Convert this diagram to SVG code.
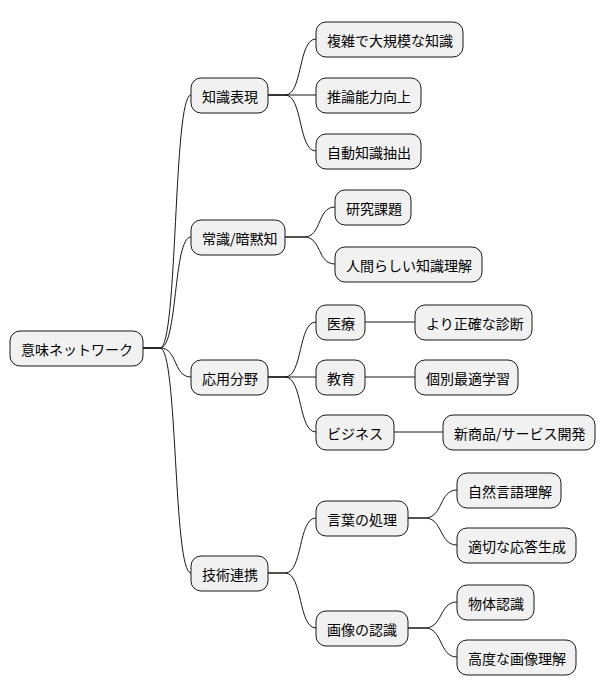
<svg xmlns="http://www.w3.org/2000/svg" width="605" height="696" viewBox="0 0 605 696">
<style>
.n rect{fill:#f1f1f1;stroke:#181818;stroke-width:1}
.n text{font-family:"Noto Sans CJK JP","Liberation Sans",sans-serif;font-size:14px;fill:#000;dominant-baseline:central}
#c path{fill:none;stroke:#181818;stroke-width:1}
</style>
<rect width="605" height="696" fill="#fff"/>
<g id="c">
<path d="M143,348 H160 C178,348 173,95 191,95"/>
<path d="M143,348 H160 C178,348 173,237 191,237"/>
<path d="M143,348 H160 C178,348 173,377 191,377"/>
<path d="M143,348 H160 C178,348 173,573 191,573"/>
<path d="M268,95 H285 C303,95 298,39 316,39"/>
<path d="M268,95 H316"/>
<path d="M268,95 H285 C303,95 298,151 316,151"/>
<path d="M285,237 H304 C322,237 317,207 335,207"/>
<path d="M285,237 H304 C322,237 317,264 335,264"/>
<path d="M268,377 H285 C303,377 298,322 316,322"/>
<path d="M268,377 H316"/>
<path d="M268,377 H285 C303,377 298,432 316,432"/>
<path d="M365,322 H415"/>
<path d="M365,377 H415"/>
<path d="M394,432 H443"/>
<path d="M268,573 H285 C303,573 298,518 316,518"/>
<path d="M268,573 H285 C303,573 298,628 316,628"/>
<path d="M408,518 H425 C443,518 439,490 457,490"/>
<path d="M408,518 H425 C443,518 439,545 457,545"/>
<path d="M408,628 H425 C443,628 439,602 457,602"/>
<path d="M408,628 H425 C443,628 439,657 457,657"/>
</g>
<g id="root" class="n"><rect x="10" y="331" width="133" height="35" rx="10"/><text x="21" y="348.5">意味ネットワーク</text></g>
<g id="n1" class="n"><rect x="191" y="78" width="77" height="35" rx="10"/><text x="202" y="95.5">知識表現</text></g>
<g id="n2" class="n"><rect x="191" y="220" width="94" height="35" rx="10"/><text x="202" y="237.5">常識/暗黙知</text></g>
<g id="n3" class="n"><rect x="191" y="360" width="77" height="35" rx="10"/><text x="202" y="377.5">応用分野</text></g>
<g id="n4" class="n"><rect x="191" y="556" width="77" height="35" rx="10"/><text x="202" y="573.5">技術連携</text></g>
<g id="n11" class="n"><rect x="316" y="22" width="147" height="35" rx="10"/><text x="327" y="39.5">複雑で大規模な知識</text></g>
<g id="n12" class="n"><rect x="316" y="78" width="105" height="35" rx="10"/><text x="327" y="95.5">推論能力向上</text></g>
<g id="n13" class="n"><rect x="316" y="134" width="105" height="35" rx="10"/><text x="327" y="151.5">自動知識抽出</text></g>
<g id="n21" class="n"><rect x="335" y="190" width="76" height="35" rx="10"/><text x="346" y="207.5">研究課題</text></g>
<g id="n22" class="n"><rect x="335" y="247" width="147" height="35" rx="10"/><text x="346" y="264.5">人間らしい知識理解</text></g>
<g id="n31" class="n"><rect x="316" y="305" width="49" height="35" rx="10"/><text x="327" y="322.5">医療</text></g>
<g id="n32" class="n"><rect x="316" y="360" width="49" height="35" rx="10"/><text x="327" y="377.5">教育</text></g>
<g id="n33" class="n"><rect x="316" y="415" width="78" height="35" rx="10"/><text x="327" y="432.5">ビジネス</text></g>
<g id="n311" class="n"><rect x="415" y="305" width="117" height="35" rx="10"/><text x="426" y="322.5">より正確な診断</text></g>
<g id="n321" class="n"><rect x="415" y="360" width="103" height="35" rx="10"/><text x="426" y="377.5">個別最適学習</text></g>
<g id="n331" class="n"><rect x="443" y="415" width="152" height="35" rx="10"/><text x="454" y="432.5">新商品/サービス開発</text></g>
<g id="n41" class="n"><rect x="316" y="501" width="92" height="35" rx="10"/><text x="327" y="518.5">言葉の処理</text></g>
<g id="n42" class="n"><rect x="316" y="611" width="92" height="35" rx="10"/><text x="327" y="628.5">画像の認識</text></g>
<g id="n411" class="n"><rect x="457" y="473" width="104" height="35" rx="10"/><text x="468" y="490.5">自然言語理解</text></g>
<g id="n412" class="n"><rect x="457" y="528" width="119" height="35" rx="10"/><text x="468" y="545.5">適切な応答生成</text></g>
<g id="n421" class="n"><rect x="457" y="585" width="77" height="35" rx="10"/><text x="468" y="602.5">物体認識</text></g>
<g id="n422" class="n"><rect x="457" y="640" width="119" height="35" rx="10"/><text x="468" y="657.5">高度な画像理解</text></g>
</svg>
